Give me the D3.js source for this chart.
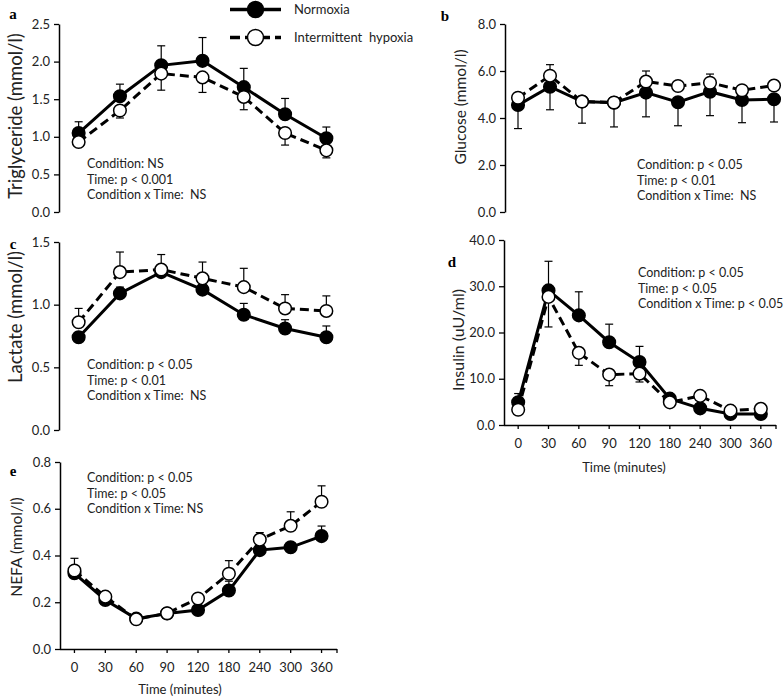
<!DOCTYPE html>
<html>
<head>
<meta charset="utf-8">
<script src="https://cdn.jsdelivr.net/npm/d3@7/dist/d3.min.js"></script>
<style>
  html, body { margin: 0; padding: 0; background: #fff; }
  svg { display: block; font-family: Lato, "Open Sans", sans-serif; }
  svg text { white-space: pre; }
</style>
</head>
<body>
<svg id="chart" width="784" height="699"></svg>
<script>
// ---------------- DATA ----------------
const times9 = ["0", "30", "60", "90", "120", "180", "240", "300", "360"];
const times7 = ["0", "60", "120", "180", "240", "300", "360"];
const seriesNames = ["Normoxia", "Intermittent  hypoxia"];

const tgNorm   = [1.05, 1.54, 1.95, 2.01, 1.66, 1.30, 0.98];
const tgNormSE = [0.15, 0.16, 0.26, 0.31, 0.25, 0.21, 0.15];
const tgHyp    = [0.93, 1.35, 1.84, 1.79, 1.53, 1.05, 0.82];
const tgHypSE  = [0.06, 0.10, 0.22, 0.20, 0.17, 0.16, 0.10];

const gluNorm   = [4.55, 5.33, 4.70, 4.65, 5.08, 4.67, 5.12, 4.77, 4.80];
const gluNormSE = [1.00, 0.98, 0.92, 1.03, 1.03, 1.00, 1.02, 0.97, 0.97];
const gluHyp    = [4.86, 5.80, 4.70, 4.66, 5.55, 5.36, 5.50, 5.18, 5.38];
const gluHypSE  = [0.10, 0.47, 0.10, 0.10, 0.45, 0.10, 0.37, 0.10, 0.10];

const lacNorm   = [0.74, 1.09, 1.26, 1.12, 0.92, 0.81, 0.74];
const lacNormSE = [0.04, 0.05, 0.05, 0.04, 0.09, 0.07, 0.09];
const lacHyp    = [0.86, 1.26, 1.28, 1.21, 1.14, 0.97, 0.95];
const lacHypSE  = [0.11, 0.16, 0.12, 0.13, 0.15, 0.11, 0.12];

const insNorm   = [4.9, 29.1, 23.7, 17.9, 13.6, 5.7, 3.6, 2.4, 2.4];
const insNormSE = [1.9, 6.3, 5.1, 3.9, 3.4, 0.5, 0.5, 0.5, 0.5];
const insHyp    = [3.3, 27.7, 15.6, 10.9, 11.1, 4.9, 6.3, 3.1, 3.5];
const insHypSE  = [0.5, 6.5, 2.7, 2.4, 1.8, 0.5, 0.5, 0.5, 0.5];

const nefaNorm   = [0.324, 0.210, 0.130, 0.152, 0.167, 0.250, 0.423, 0.435, 0.483];
const nefaNormSE = [0.010, 0.010, 0.010, 0.010, 0.010, 0.040, 0.020, 0.010, 0.043];
const nefaHyp    = [0.336, 0.224, 0.127, 0.153, 0.216, 0.322, 0.468, 0.527, 0.630];
const nefaHypSE  = [0.052, 0.010, 0.010, 0.010, 0.010, 0.056, 0.030, 0.060, 0.068];

const tgTicks   = [0, 0.5, 1.0, 1.5, 2.0, 2.5];
const gluTicks  = [0, 2, 4, 6, 8];
const lacTicks  = [0, 0.5, 1.0, 1.5];
const insTicks  = [0, 10, 20, 30, 40];
const nefaTicks = [0, 0.2, 0.4, 0.6, 0.8];

const statsA = ["Condition: NS", "Time: p < 0.001", "Condition x Time:  NS"];
const statsB = ["Condition: p < 0.05", "Time: p < 0.01", "Condition x Time:  NS"];
const statsC = ["Condition: p < 0.05", "Time: p < 0.01", "Condition x Time:  NS"];
const statsD = ["Condition: p < 0.05", "Time: p < 0.05", "Condition x Time: p < 0.05"];
const statsE = ["Condition: p < 0.05", "Time: p < 0.05", "Condition x Time: NS"];

// ---------------- LAYOUT / STYLE ----------------
const panels = [
  { letter: "a", letterPos: [13, 19], cats: times7, norm: tgNorm, normSE: tgNormSE, hyp: tgHyp, hypSE: tgHypSE,
    ticks: tgTicks, fmt: d3.format(".1f"), x: [58, 347], y: [212, 24], normDir: 1, hypDir: -1,
    label: "Triglyceride (mmol/l)", labelX: 22, labelY: 116, labelSize: 18.5,
    stats: statsA, statsPos: [87, 168], xAxis: false },
  { letter: "b", letterPos: [445, 21], cats: times9, norm: gluNorm, normSE: gluNormSE, hyp: gluHyp, hypSE: gluHypSE,
    ticks: gluTicks, fmt: d3.format(".1f"), x: [502, 790], y: [212, 24], normDir: -1, hypDir: 1,
    label: "Glucose (mmol/l)", labelX: 466, labelY: 107, labelSize: 15.5,
    stats: statsB, statsPos: [637, 169], xAxis: false, axisX: 505 },
  { letter: "c", letterPos: [13, 249], cats: times7, norm: lacNorm, normSE: lacNormSE, hyp: lacHyp, hypSE: lacHypSE,
    ticks: lacTicks, fmt: d3.format(".1f"), x: [58, 347], y: [430, 242], normDir: 1, hypDir: 1,
    label: "Lactate (mmol/l)", labelX: 22, labelY: 317, labelSize: 18.5,
    stats: statsC, statsPos: [87, 369], xAxis: false },
  { letter: "d", letterPos: [452, 267], cats: times9, norm: insNorm, normSE: insNormSE, hyp: insHyp, hypSE: insHypSE,
    ticks: insTicks, fmt: d3.format(".1f"), x: [503, 776], y: [425, 240], normDir: 1, hypDir: -1,
    label: "Insulin (uU/ml)", labelX: 464, labelY: 340, labelSize: 16,
    stats: statsD, statsPos: [638, 277], xAxis: true, titleX: 624, titleY: 472, tickLabelY: 448 },
  { letter: "e", letterPos: [13, 476], cats: times9, norm: nefaNorm, normSE: nefaNormSE, hyp: nefaHyp, hypSE: nefaHypSE,
    ticks: nefaTicks, fmt: d3.format(".1f"), x: [59, 337], y: [649, 462], normDir: 1, hypDir: 1,
    label: "NEFA (mmol/l)", labelX: 22, labelY: 547, labelSize: 15.5,
    stats: statsE, statsPos: [87, 482], xAxis: true, titleX: 180, titleY: 694, tickLabelY: 672 }
];

const svg = d3.select("#chart");
const R = 6.3;
const lineW = 3;
const dash = "9,5";
const tickFont = 13;
const statFont = 12.5;

panels.forEach(p => {
  const g = svg.append("g");
  const xs = d3.scaleBand().domain(p.cats).range(p.x);
  const ys = d3.scaleLinear().domain([0, d3.max(p.ticks)]).range(p.y);
  const cx = c => xs(c) + xs.bandwidth() / 2;
  const axisX = p.axisX !== undefined ? p.axisX : p.x[0] + 1;

  // y axis
  const yAxis = d3.axisLeft(ys).tickValues(p.ticks).tickFormat(p.fmt).tickSize(5).tickSizeOuter(0);
  const ya = g.append("g").attr("transform", `translate(${axisX},0)`).call(yAxis);
  ya.select(".domain").attr("stroke", "#000").attr("stroke-width", 1.5);
  ya.selectAll(".tick line").attr("stroke", "#000").attr("stroke-width", 1.3);
  ya.selectAll(".tick text").attr("font-size", tickFont).attr("fill", "#222").attr("x", -9)
    .attr("font-family", "Lato, sans-serif");

  // x axis
  if (p.xAxis) {
    const xAxis = d3.axisBottom(xs).tickSize(4).tickSizeOuter(0).tickFormat(() => "");
    const xa = g.append("g").attr("transform", `translate(0,${p.y[0]})`).call(xAxis);
    xa.select(".domain").attr("stroke", "#000").attr("stroke-width", 1.5)
      .attr("d", `M${axisX},0.5H${p.x[1]}`);
    xa.selectAll(".tick line").attr("stroke", "#000").attr("stroke-width", 1.3);
    g.append("line").attr("x1", p.x[1]).attr("x2", p.x[1]).attr("y1", p.y[0]).attr("y2", p.y[0] + 4)
      .attr("stroke", "#000").attr("stroke-width", 1.3);
    g.selectAll(".xlab").data(p.cats).enter().append("text")
      .attr("x", d => cx(d)).attr("y", p.tickLabelY).attr("text-anchor", "middle")
      .attr("font-size", tickFont).attr("fill", "#222").text(d => d);
    g.append("text").attr("x", p.titleX).attr("y", p.titleY).attr("text-anchor", "middle")
      .attr("font-size", 13).attr("fill", "#222").text("Time (minutes)");
  }

  // y label
  g.append("text")
    .attr("transform", `translate(${p.labelX},${p.labelY}) rotate(-90)`)
    .attr("text-anchor", "middle").attr("font-size", p.labelSize).attr("fill", "#222")
    .text(p.label);

  // panel letter
  g.append("text").attr("x", p.letterPos[0]).attr("y", p.letterPos[1]).attr("text-anchor", "middle")
    .attr("font-family", "'Liberation Serif', 'DejaVu Serif', serif").attr("font-weight", "bold")
    .attr("font-size", 15).text(p.letter);

  // stats text
  g.selectAll(".stat").data(p.stats).enter().append("text")
    .attr("x", p.statsPos[0]).attr("y", (d, i) => p.statsPos[1] + i * 15.7)
    .attr("font-size", statFont).attr("fill", "#222").text(d => d);

  const drawSeries = (vals, se, dir, filled) => {
    const pts = p.cats.map((c, i) => ({ c, v: vals[i], e: se[i] }));
    // error bars
    const eb = g.append("g").attr("stroke", "#000").attr("stroke-width", 1.2);
    pts.forEach(d => {
      const y0 = ys(d.v), y1 = ys(d.v + dir * d.e);
      eb.append("line").attr("x1", cx(d.c)).attr("x2", cx(d.c)).attr("y1", y0).attr("y2", y1);
      eb.append("line").attr("x1", cx(d.c) - 4).attr("x2", cx(d.c) + 4).attr("y1", y1).attr("y2", y1);
    });
    // line
    g.append("path").datum(pts)
      .attr("d", d3.line().x(d => cx(d.c)).y(d => ys(d.v)))
      .attr("fill", "none").attr("stroke", "#000").attr("stroke-width", lineW)
      .attr("stroke-dasharray", filled ? null : dash);
    // markers
    g.selectAll(null).data(pts).enter().append("circle")
      .attr("cx", d => cx(d.c)).attr("cy", d => ys(d.v)).attr("r", R)
      .attr("fill", filled ? "#000" : "#fff").attr("stroke", "#000").attr("stroke-width", 1.5);
  };
  drawSeries(p.norm, p.normSE, p.normDir, true);
  drawSeries(p.hyp, p.hypSE, p.hypDir, false);
});

// legend
const lg = svg.append("g");
seriesNames.forEach((name, i) => {
  const y = 9.5 + i * 28;
  lg.append("line").attr("x1", 230).attr("x2", 281).attr("y1", y).attr("y2", y)
    .attr("stroke", "#000").attr("stroke-width", 3.5)
    .attr("stroke-dasharray", i === 0 ? null : "10,5");
  lg.append("circle").attr("cx", 255.5).attr("cy", y).attr("r", 8)
    .attr("fill", i === 0 ? "#000" : "#fff").attr("stroke", "#000").attr("stroke-width", 1.5);
  lg.append("text").attr("x", 294).attr("y", y + 4.5).attr("font-size", 13).attr("fill", "#222").text(name);
});
</script>
</body>
</html>
